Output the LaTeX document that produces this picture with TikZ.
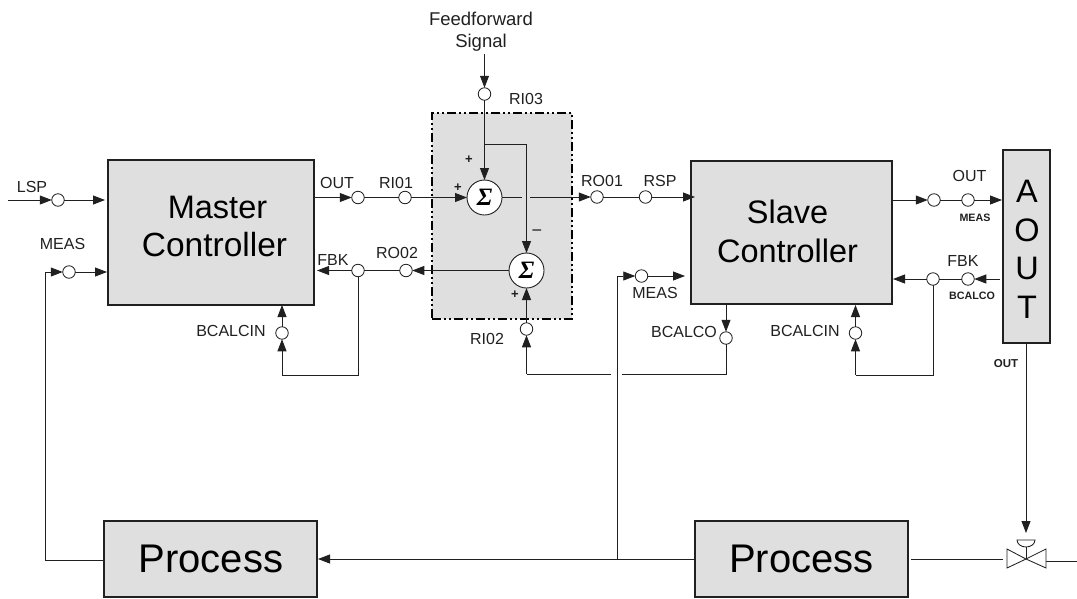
\documentclass[tikz,border=0pt]{standalone}
\usepackage{fontspec}
\setmainfont{Liberation Sans}
\newfontfamily\sigmafont{Liberation Serif}[BoldItalicFont={* Bold Italic}]
\usetikzlibrary{arrows.meta}
\definecolor{boxgray}{HTML}{DFDFDF}
\definecolor{linedark}{HTML}{202020}
\tikzset{
  line/.style={draw=linedark,line width=0.85pt},
  arr/.style={line,-{Triangle[length=12pt,width=9pt]}},
  block/.style={draw=linedark,fill=boxgray,line width=1.1pt,inner sep=0pt,outer sep=0pt,anchor=north west},
  port/.style={circle,draw=linedark,fill=white,line width=0.8pt,minimum size=12.5pt,inner sep=0pt,outer sep=0pt},
  summer/.style={circle,draw=linedark,fill=white,line width=0.9pt,minimum size=35pt,inner sep=0pt,outer sep=0pt,font=\fontsize{25}{25}\selectfont\sigmafont\bfseries\itshape},
  lab/.style={font=\fontsize{16}{16}\selectfont,anchor=base,inner sep=0pt,outer sep=0pt,text=linedark},
  smallb/.style={font=\fontsize{10.7}{11}\selectfont\bfseries,anchor=base,inner sep=0pt,outer sep=0pt,text=linedark},
  big/.style={font=\fontsize{32.5}{32}\selectfont,anchor=base,inner sep=0pt,outer sep=0pt,text=black},
  proc/.style={font=\fontsize{40}{40}\selectfont,anchor=base,inner sep=0pt,outer sep=0pt,text=black},
  sign/.style={font=\fontsize{13}{13}\selectfont\bfseries,inner sep=0pt,outer sep=0pt,text=linedark},
}
\begin{document}
\begin{tikzpicture}[x=1pt,y=-1pt]
\useasboundingbox (0,0) rectangle (1077,598);
% blocks
\node[block,minimum width=140pt,minimum height=206pt,fill=boxgray,draw=black,line width=1.3pt,dash pattern=on 9pt off 3pt on 2pt off 3pt on 2pt off 3pt] (sumbox) at (432,113) {};
\node[block,minimum width=206pt,minimum height=145pt] (master) at (108,160) {};
\node[block,minimum width=201pt,minimum height=143pt] (slave) at (691,161) {};
\node[block,minimum width=47pt,minimum height=193pt] (aout) at (1003,150) {};
\node[block,minimum width=213pt,minimum height=76pt] (proc1) at (104,521) {};
\node[block,minimum width=213pt,minimum height=76pt] (proc2) at (695,521) {};
% block texts
\node[big] (tm1) at (217.5,218) {Master};
\node[big,font=\fontsize{33.5}{33}\selectfont] (tm2) at (214.5,256) {Controller};
\node[big] (ts1) at (787.5,223) {Slave};
\node[big] (ts2) at (787.5,262) {Controller};
\node[big] (ta1) at (1027,202) {A};
\node[big] (ta2) at (1027,241) {O};
\node[big] (ta3) at (1027,279.5) {U};
\node[big] (ta4) at (1027,318) {T};
\node[proc] (tp1) at (211,572) {Process};
\node[proc] (tp2) at (801.5,572) {Process};
% ports
\node[port] (lsp) at (58,200) {};
\node[port] (mmeas) at (69,272) {};
\node[port] (mout) at (358,197.5) {};
\node[port] (ri01) at (405,197.5) {};
\node[port] (mfbk) at (358,270.5) {};
\node[port] (ro02) at (406,270.5) {};
\node[port] (mbc) at (282,333) {};
\node[port] (ri03) at (484.5,94) {};
\node[port] (ri02) at (526.5,329) {};
\node[port] (ro01) at (597,197) {};
\node[port] (rsp) at (645.5,197) {};
\node[port] (smeas) at (641.5,276) {};
\node[port] (sbo) at (726,338) {};
\node[port] (sbc) at (855.5,333) {};
\node[port] (sout) at (934,200) {};
\node[port] (ameas) at (968,200) {};
\node[port] (sfbk) at (933,279) {};
\node[port] (abc) at (968,279) {};
% summers
\node[summer] (s1) at (484.5,197.5) {Σ};
\node[summer] (s2) at (526.5,270.5) {Σ};
% free ends
\coordinate (lspin) at (8,200);
\coordinate (lspend) at (105,200);
\coordinate (mmeasend) at (107,272);
\coordinate (leftcorner) at (45,272);
\coordinate (leftlow) at (45,560);
\coordinate (mouts) at (314,197.5);
\coordinate (mfbkend) at (317,270.5);
\coordinate (mbclow) at (282,375);
\coordinate (mfbklow) at (358,375);
\coordinate (mbctop) at (282,305);
\coordinate (ffin) at (484.5,54);
\coordinate (branch) at (484.5,144);
\coordinate (branchr) at (526.5,144);
\coordinate (gapa) at (522,197.5);
\coordinate (gapb) at (530,197);
\coordinate (rspend) at (695,197);
\coordinate (ri02low) at (526.5,374);
\coordinate (gapc) at (611,374);
\coordinate (gapd) at (622,374);
\coordinate (sbolow) at (726,374);
\coordinate (sbotop) at (726,304);
\coordinate (meascorner) at (617,276);
\coordinate (measlow) at (617,559);
\coordinate (smeasend) at (685,276);
\coordinate (sbctop) at (855.5,305);
\coordinate (sbclow) at (855.5,375);
\coordinate (sfbklow) at (933,375);
\coordinate (soutstart) at (892,200);
\coordinate (aoutin) at (1002,200);
\coordinate (sfbkend) at (893,279);
\coordinate (aoutout) at (1000,279);
\coordinate (aoutlow) at (1026,343);
\coordinate (p1right) at (318,559);
\coordinate (p2left) at (695,559);
\coordinate (p1left) at (104,560);
\coordinate (p2right) at (911,559);
% valve
\coordinate (vc) at (1026,559);
\coordinate (vtip) at (1026,533);
\coordinate (vl) at (1003,559);
\coordinate (vr) at (1046,561);
\coordinate (vend) at (1077,561);
% connectors
\draw[arr] (lspin) -- (lsp);
\draw[arr] (lsp) -- (lspend);
\draw[line] (p1left) -- (leftlow) -- (leftcorner);
\draw[arr] (leftcorner) -- (mmeas);
\draw[arr] (mmeas) -- (mmeasend);
\draw[arr] (mouts) -- (mout);
\draw[line] (mout) -- (ri01);
\draw[arr] (ri01) -- (s1);
\draw[arr] (ffin) -- (ri03);
\draw[arr] (ri03) -- (s1);
\draw[line] (branch) -- (branchr);
\draw[arr] (branchr) -- (s2);
\draw[line] (s1) -- (gapa);
\draw[arr] (gapb) -- (ro01);
\draw[line] (ro01) -- (rsp);
\draw[arr] (rsp) -- (rspend);
\draw[arr] (s2) -- (ro02);
\draw[line] (ro02) -- (mfbk);
\draw[arr] (mfbk) -- (mfbkend);
\draw[line] (mfbk) -- (mfbklow) -- (mbclow);
\draw[arr] (mbclow) -- (mbc);
\draw[arr] (mbc) -- (mbctop);
\draw[arr] (ri02) -- (s2);
\draw[arr] (ri02low) -- (ri02);
\draw[line] (ri02low) -- (gapc);
\draw[line] (gapd) -- (sbolow) -- (sbo);
\draw[arr] (sbotop) -- (sbo);
\draw[line] (measlow) -- (meascorner);
\draw[arr] (meascorner) -- (smeas);
\draw[arr] (smeas) -- (smeasend);
\draw[arr] (p2left) -- (p1right);
\draw[arr] (sbclow) -- (sbc);
\draw[arr] (sbc) -- (sbctop);
\draw[line] (sfbk) -- (sfbklow) -- (sbclow);
\draw[arr] (soutstart) -- (sout);
\draw[line] (sout) -- (ameas);
\draw[arr] (ameas) -- (aoutin);
\draw[arr] (aoutout) -- (abc);
\draw[line] (abc) -- (sfbk);
\draw[arr] (sfbk) -- (sfbkend);
\draw[arr] (aoutlow) -- (vtip);
\draw[line] (p2right) -- (vl);
\draw[line] (vr) -- (vend);
\draw[line] (1026,540) -- (vc);
\draw[line,fill=white] (1017,540) arc[start angle=180,end angle=0,x radius=9pt,y radius=-7pt] -- cycle;
\draw[line,fill=white,line join=miter] (1007,549) -- (vc) -- (1007,568) -- cycle;
\draw[line,fill=white,line join=miter] (1046,549) -- (vc) -- (1046,568) -- cycle;
% labels
\node[lab,align=center,font=\fontsize{18.5}{22}\selectfont,anchor=center] (ff) at (481,32) {Feedforward\\Signal};
\node[lab] (l1) at (32,192) {LSP};
\node[lab] (l2) at (62.5,249) {MEAS};
\node[lab] (l3) at (337,188) {OUT};
\node[lab] (l4) at (396,188) {RI01};
\node[lab] (l5) at (333,265) {FBK};
\node[lab] (l6) at (397,258) {RO02};
\node[lab] (l7) at (231,336) {BCALCIN};
\node[lab] (l8) at (602,186) {RO01};
\node[lab] (l9) at (660,186) {RSP};
\node[lab] (l10) at (526,104) {RI03};
\node[lab] (l11) at (487,344) {RI02};
\node[lab] (l12) at (655,298) {MEAS};
\node[lab] (l13) at (684,337) {BCALCO};
\node[lab] (l14) at (805,336) {BCALCIN};
\node[lab] (l15) at (969.5,181) {OUT};
\node[lab] (l16) at (963,266) {FBK};
\node[smallb] (b1) at (975,221) {MEAS};
\node[smallb] (b2) at (972,299) {BCALCO};
\node[smallb,font=\fontsize{11.5}{12}\selectfont\bfseries] (b3) at (1006,367) {OUT};
\node[sign] (p1) at (469,160) {+};
\node[sign] (p2) at (458,188) {+};
\node[sign,font=\fontsize{18}{18}\selectfont] (m1) at (537,233) {−};
\node[sign] (p3) at (515,295) {+};
\end{tikzpicture}
\end{document}
